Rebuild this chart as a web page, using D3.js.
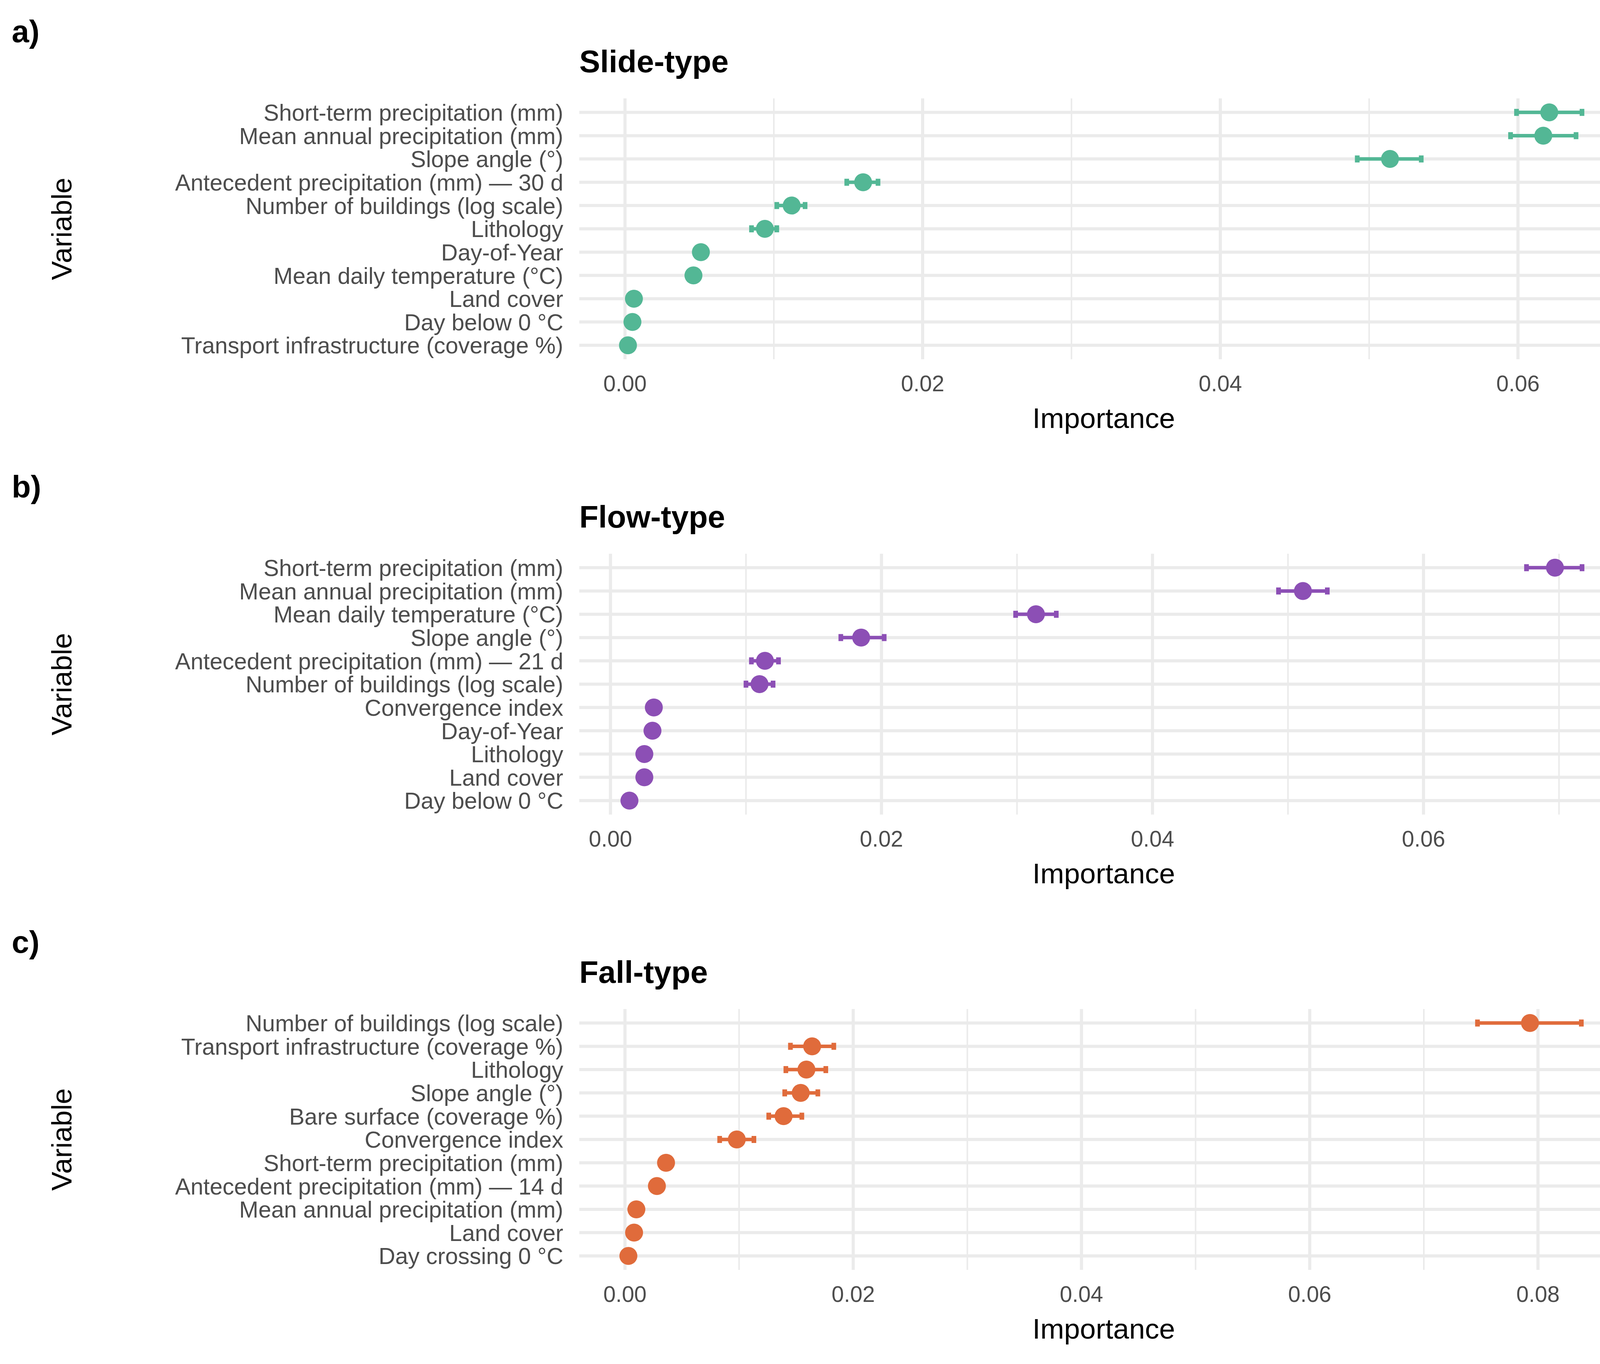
<!DOCTYPE html>
<html>
<head>
<meta charset="utf-8">
<script src="https://cdn.jsdelivr.net/npm/d3@7"></script>
<style>
  body { margin: 0; background: #fff; }
  text { font-family: "Liberation Sans", Arial, sans-serif; }
</style>
</head>
<body>
<div id="container"></div>
<script>
// panel a) Slide-type
var slideVars = ["Short-term precipitation (mm)", "Mean annual precipitation (mm)", "Slope angle (°)",
  "Antecedent precipitation (mm) — 30 d", "Number of buildings (log scale)", "Lithology", "Day-of-Year",
  "Mean daily temperature (°C)", "Land cover", "Day below 0 °C", "Transport infrastructure (coverage %)"];
var slideMean = [0.0621, 0.0617, 0.0514, 0.0160, 0.0112, 0.0094, 0.0051, 0.0046, 0.0006, 0.0005, 0.0002];
var slideLo = [0.0599, 0.0595, 0.0492, 0.0149, 0.0102, 0.0085, 0.0049, 0.0044, 0.0005, 0.0004, 0.0001];
var slideHi = [0.0643, 0.0639, 0.0535, 0.0170, 0.0121, 0.0102, 0.0053, 0.0049, 0.0007, 0.0006, 0.0003];

// panel b) Flow-type
var flowVars = ["Short-term precipitation (mm)", "Mean annual precipitation (mm)", "Mean daily temperature (°C)",
  "Slope angle (°)", "Antecedent precipitation (mm) — 21 d", "Number of buildings (log scale)",
  "Convergence index", "Day-of-Year", "Lithology", "Land cover", "Day below 0 °C"];
var flowMean = [0.0697, 0.0511, 0.0314, 0.0185, 0.0114, 0.0110, 0.0032, 0.0031, 0.0025, 0.0025, 0.0014];
var flowLo = [0.0676, 0.0493, 0.0299, 0.0170, 0.0104, 0.0100, 0.0031, 0.0030, 0.0024, 0.0024, 0.0013];
var flowHi = [0.0717, 0.0529, 0.0329, 0.0202, 0.0124, 0.0120, 0.0033, 0.0032, 0.0026, 0.0026, 0.0015];

// panel c) Fall-type
var fallVars = ["Number of buildings (log scale)", "Transport infrastructure (coverage %)", "Lithology",
  "Slope angle (°)", "Bare surface (coverage %)", "Convergence index", "Short-term precipitation (mm)",
  "Antecedent precipitation (mm) — 14 d", "Mean annual precipitation (mm)", "Land cover", "Day crossing 0 °C"];
var fallMean = [0.0793, 0.0164, 0.0159, 0.0154, 0.0139, 0.0098, 0.0036, 0.0028, 0.0010, 0.0008, 0.0003];
var fallLo = [0.0747, 0.0145, 0.0141, 0.0140, 0.0126, 0.0083, 0.0035, 0.0027, 0.0009, 0.0007, 0.0002];
var fallHi = [0.0838, 0.0183, 0.0176, 0.0169, 0.0155, 0.0113, 0.0037, 0.0029, 0.0011, 0.0009, 0.0004];

var xTicks = {
  a: [0, 0.02, 0.04, 0.06],
  b: [0, 0.02, 0.04, 0.06],
  c: [0, 0.02, 0.04, 0.06, 0.08]
};

var panels = [
  { tag: "a)", title: "Slide-type", vars: slideVars, mean: slideMean, lo: slideLo, hi: slideHi,
    color: "#53b795", domain: [-0.00307, 0.0674], ticks: xTicks.a },
  { tag: "b)", title: "Flow-type", vars: flowVars, mean: flowMean, lo: flowLo, hi: flowHi,
    color: "#8c4fb5", domain: [-0.00230, 0.0751], ticks: xTicks.b },
  { tag: "c)", title: "Fall-type", vars: fallVars, mean: fallMean, lo: fallLo, hi: fallHi,
    color: "#e06b3b", domain: [-0.00400, 0.0879], ticks: xTicks.c }
];

var W = 4204, H = 3493;
var svg = d3.select('#container')
  .append('svg')
  .attr('width', W)
  .attr('height', H);

var left = 1483, right = 4168, step = 1166;

panels.forEach(function (p, k) {
  var off = k * step;
  var top = 252 + off, bottom = 920 + off;
  var g = svg.append("g");

  var x = d3.scaleLinear().domain(p.domain).range([left, right]);
  var y = d3.scalePoint().domain(p.vars).range([top, bottom]).padding(0.6);

  // minor grid
  var minor = [];
  for (var i = 0; i < p.ticks.length; i++) {
    if (i > 0) minor.push((p.ticks[i - 1] + p.ticks[i]) / 2);
  }
  var lastT = p.ticks[p.ticks.length - 1];
  var stepT = p.ticks[1] - p.ticks[0];
  if (lastT + stepT / 2 < p.domain[1]) minor.push(lastT + stepT / 2);

  g.selectAll(".minor").data(minor).enter().append("line")
    .attr("x1", d => x(d)).attr("x2", d => x(d))
    .attr("y1", top).attr("y2", bottom)
    .attr("stroke", "#ebebeb").attr("stroke-width", 4);

  g.selectAll(".vmaj").data(p.ticks).enter().append("line")
    .attr("x1", d => x(d)).attr("x2", d => x(d))
    .attr("y1", top).attr("y2", bottom)
    .attr("stroke", "#ebebeb").attr("stroke-width", 8);

  g.selectAll(".hmaj").data(p.vars).enter().append("line")
    .attr("x1", left).attr("x2", right)
    .attr("y1", d => y(d)).attr("y2", d => y(d))
    .attr("stroke", "#ebebeb").attr("stroke-width", 8);

  // category labels
  g.selectAll(".cat").data(p.vars).enter().append("text")
    .attr("x", 1442).attr("y", d => y(d))
    .attr("dy", "0.36em")
    .attr("text-anchor", "end")
    .attr("font-size", 59)
    .attr("fill", "#4d4d4d")
    .text(d => d);

  // tick labels
  g.selectAll(".tick").data(p.ticks).enter().append("text")
    .attr("x", d => x(d)).attr("y", 1002 + off)
    .attr("text-anchor", "middle")
    .attr("font-size", 57)
    .attr("fill", "#4d4d4d")
    .text(d => d3.format(".2f")(d));

  // error bars
  var idx = d3.range(p.vars.length);
  g.selectAll(".err").data(idx).enter().append("line")
    .attr("x1", i => x(p.lo[i])).attr("x2", i => x(p.hi[i]))
    .attr("y1", i => y(p.vars[i])).attr("y2", i => y(p.vars[i]))
    .attr("stroke", p.color).attr("stroke-width", 9);
  [p.lo, p.hi].forEach(function (arr) {
    g.selectAll(null).data(idx).enter().append("line")
      .attr("x1", i => x(arr[i])).attr("x2", i => x(arr[i]))
      .attr("y1", i => y(p.vars[i]) - 9).attr("y2", i => y(p.vars[i]) + 9)
      .attr("stroke", p.color).attr("stroke-width", 12);
  });

  g.selectAll(".pt").data(idx).enter().append("circle")
    .attr("cx", i => x(p.mean[i])).attr("cy", i => y(p.vars[i]))
    .attr("r", 23)
    .attr("fill", p.color);

  // titles
  g.append("text").attr("x", 30).attr("y", 108 + off)
    .attr("font-size", 80).attr("font-weight", "bold").text(p.tag);
  g.append("text").attr("x", 1483).attr("y", 185 + off)
    .attr("font-size", 80).attr("font-weight", "bold").text(p.title);
  g.append("text").attr("x", (left + right) / 2).attr("y", 1096 + off)
    .attr("text-anchor", "middle").attr("font-size", 73).text("Importance");
  g.append("text")
    .attr("transform", "translate(183," + ((top + bottom) / 2) + ") rotate(-90)")
    .attr("text-anchor", "middle").attr("font-size", 73).text("Variable");
});
</script>
</body>
</html>
